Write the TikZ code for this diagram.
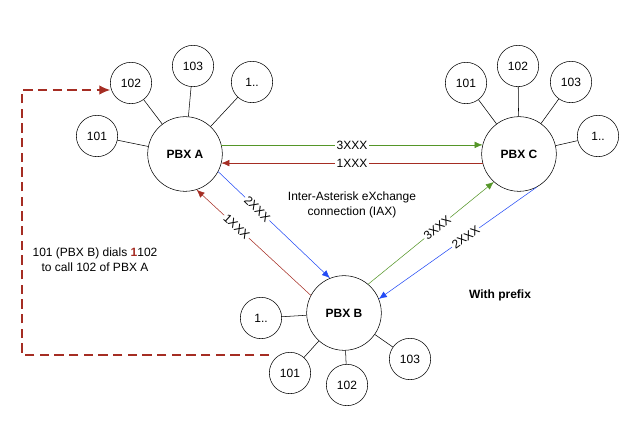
\documentclass[tikz,border=0pt]{standalone}
\usepackage{fontspec}
\setmainfont{Liberation Sans}
\usetikzlibrary{arrows.meta}
\definecolor{iaxred}{RGB}{165,45,35}
\definecolor{iaxgreen}{RGB}{85,150,40}
\definecolor{iaxblue}{RGB}{35,75,245}
\begin{document}
\begin{tikzpicture}[x=0.75pt,y=-0.75pt]
\tikzstyle{pbx}=[draw=black,circle,minimum size=56pt,inner sep=0pt,font=\bfseries\small]
\tikzstyle{phone}=[draw=black,circle,minimum size=31pt,inner sep=0pt,font=\small]
\tikzstyle{trunk}=[-{Latex[length=6pt,width=5pt]}]
\tikzstyle{lbl}=[fill=white,inner sep=1pt,font=\small,sloped,text=black]
\useasboundingbox (0,0) rectangle (640,441);
\node [pbx] at (185,154) (pa) {PBX A};
\node [pbx] at (519,154) (pc) {PBX C};
\node [pbx] at (344,313) (pb) {PBX B};
% extensions
\foreach \n/\t/\x/\y in {a1/101/97/136,a2/102/131/83,a3/103/193/66,a4/1../252/82}
  \node [phone] at (\x,\y) (\n) {\t};
\foreach \n/\t/\x/\y in {c1/101/466/83,c2/102/518/66,c3/103/571/82,c4/1../598/136}
  \node [phone] at (\x,\y) (\n) {\t};
\foreach \n/\t/\x/\y in {b4/1../261/318,b1/101/290/373,b2/102/347/385,b3/103/410/359}
  \node [phone] at (\x,\y) (\n) {\t};
\foreach \n in {a1,a2,a3,a4} \draw (\n) -- (pa);
\foreach \n in {c1,c2,c3,c4} \draw (\n) -- (pc);
\foreach \n in {b1,b2,b3,b4} \draw (\n) -- (pb);

\draw [trunk,iaxgreen] (pa.14) -- node[lbl] {3XXX} (pc.166);
\draw [trunk,iaxred] (pc.194) -- node[lbl] {1XXX} (pa.-14);
\draw [trunk,iaxblue] (pa.-28) -- node[lbl,pos=0.35] {2XXX} (pb.112);
\draw [trunk,iaxred] (pb.152) -- node[lbl,pos=0.65] {1XXX} (pa.-72);
\draw [trunk,iaxgreen] (pb.50) -- node[lbl,pos=0.55] {3XXX} (pc.-132);
\draw [trunk,iaxblue] (pc.-62) -- node[lbl,pos=0.45] {2XXX} (pb.22);

\node [align=center,font=\small] at (352,205) (iax) {Inter-Asterisk eXchange\\connection (IAX)};
\node [align=center,font=\small] at (95,260) (dial) {101 (PBX B) dials \textcolor{iaxred}{\bfseries 1}102\\to call 102 of PBX A};
\node [font=\bfseries\small] at (500,295) (prefix) {With prefix};

\coordinate (t1) at (22,355);
\coordinate (t2) at (22,90);
\draw [iaxred,thick,dashed,-{Latex[length=8pt,width=7pt]},dash pattern=on 7pt off 4pt]
  (b1.west |- t1) -- (t1) -- (t2) -- (a2.west |- t2);
\end{tikzpicture}
\end{document}
